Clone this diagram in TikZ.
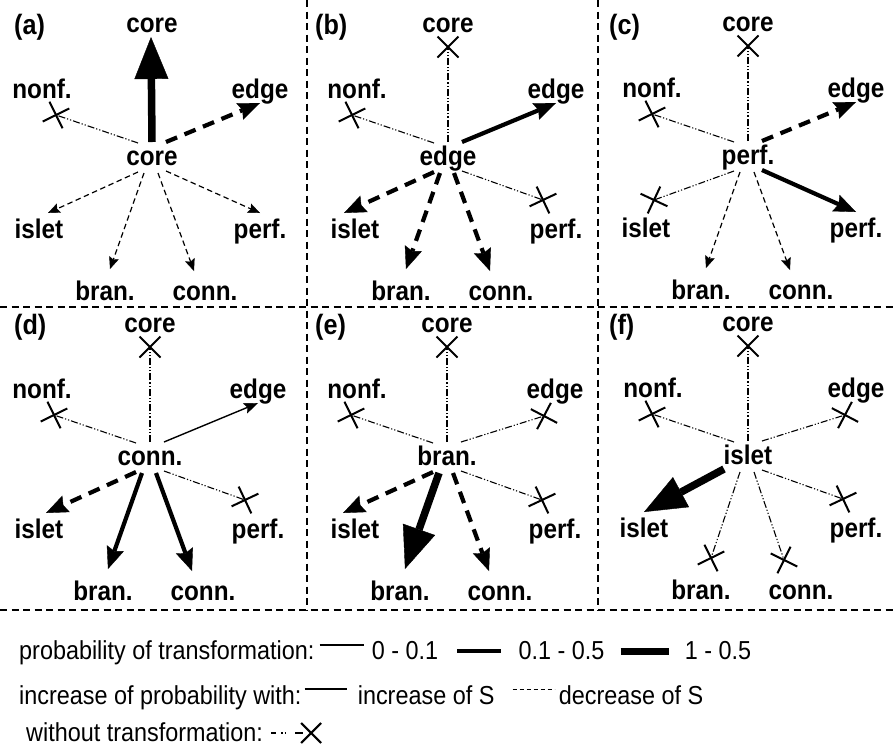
\documentclass[tikz,border=0pt]{standalone}
\usepackage{fontspec}
\setmainfont{Liberation Sans}[FakeStretch=0.9]
\newfontfamily\legfont{Liberation Sans}[FakeStretch=0.9]
\usetikzlibrary{arrows.meta,decorations.markings}

\tikzset{
  lab/.style={font=\fontsize{27}{30}\selectfont\bfseries, inner sep=0pt, anchor=base},
  tag/.style={font=\fontsize{28}{30}\selectfont\bfseries, inner sep=0pt, anchor=base west},
  leg/.style={font=\legfont\fontsize{26}{28}\selectfont, inner sep=0pt, anchor=base west},
  divider/.style={line width=1.2pt, dash pattern=on 7pt off 4.5pt},
  pthin/.style={line width=1.2pt, dash pattern=on 5.5pt off 3.5pt,
    -{Stealth[length=12pt,width=10pt,inset=2pt,line width=0.4pt]}},
  pthinsolid/.style={line width=1.4pt,
    -{Stealth[length=14pt,width=11pt,inset=2.5pt,line width=0.4pt]}},
  pmed/.style={line width=4.2pt,
    -{Stealth[length=22pt,width=18pt,inset=3pt,line width=0.4pt]}},
  pmeddash/.style={pmed, dash pattern=on 12pt off 8pt},
  pbig/.style={line width=7.5pt, -{Triangle[length=42pt,width=34pt,line width=0.4pt]}},
  xmark/.style={solid, line width=2pt},
  noway/.style={line width=1.1pt,
    dash pattern=on 7pt off 2pt on 1.2pt off 2pt on 1.2pt off 2pt,
    postaction={decorate, decoration={markings, mark=at position 1 with
      {\draw[xmark] (-10.5pt,-10.5pt) -- (10.5pt,10.5pt) (-10.5pt,10.5pt) -- (10.5pt,-10.5pt);}}}},
}

% one star: #1 prefix, #2/#3 centre, #4 centre label,
% #5/#6 x offsets of the left-hand labels nonf. and islet
\newcommand\starpanel[6]{%
  \begin{scope}[shift={(#2,#3)}]
    \node[lab] (#1-c) at (0,7) {#4};
    \node[lab] (#1-core) at (0,-126) {core};
    \node[lab] (#1-nonf) at (#5,-60) {nonf.};
    \node[lab] (#1-edge) at (108,-60) {edge};
    \node[lab] (#1-islet) at (#6,80) {islet};
    \node[lab] (#1-perf) at (108,80) {perf.};
    \node[lab] (#1-bran) at (-47,142) {bran.};
    \node[lab] (#1-conn) at (53,142) {conn.};
    % where the connectors leave the centre label
    \coordinate (#1-core-s) at (0,-16);
    \coordinate (#1-nonf-s) at (-14,-15);
    \coordinate (#1-edge-s) at (14,-16);
    \coordinate (#1-islet-s) at (-14,14);
    \coordinate (#1-perf-s) at (14,13);
    \coordinate (#1-bran-s) at (-8,15);
    \coordinate (#1-conn-s) at (6,15);
    \coordinate (#1-islet-w) at (-24,12);
    % arrow tips
    \coordinate (#1-core-t) at (-1,-121);
    \coordinate (#1-edge-t) at (108,-55);
    \coordinate (#1-islet-t) at (-104,55);
    \coordinate (#1-perf-t) at (108,55);
    \coordinate (#1-bran-t) at (-42,111);
    \coordinate (#1-conn-t) at (42,113);
    % crosses
    \coordinate (#1-core-x) at (0,-111);
    \coordinate (#1-nonf-x) at (-96,-43);
    \coordinate (#1-edge-x) at (97,-42);
    \coordinate (#1-islet-x) at (-94,43);
    \coordinate (#1-perf-x) at (95,42);
    \coordinate (#1-bran-x) at (-37,101);
    \coordinate (#1-conn-x) at (36,103);
  \end{scope}}

\begin{document}
\begin{tikzpicture}[x=1pt,y=-1pt]
\useasboundingbox (0,0) rectangle (895,748);

% frame of the six panels
\draw[divider] (0,307) -- (895,307);
\draw[divider] (0,610) -- (895,610);
\draw[divider] (307,0) -- (307,610);
\draw[divider] (598,0) -- (598,610);

\node[tag] (ta) at (14,34) {(a)};
\node[tag] (tb) at (315,34) {(b)};
\node[tag] (tc) at (609,34) {(c)};
\node[tag] (td) at (14,334) {(d)};
\node[tag] (te) at (315,334) {(e)};
\node[tag] (tf) at (609,334) {(f)};

\starpanel{a}{152}{158}{core}{-110}{-113}
\starpanel{b}{448}{158}{edge}{-91}{-93}
\starpanel{c}{748}{157}{perf.}{-96}{-102}
\starpanel{d}{150}{458}{conn.}{-108}{-111}
\starpanel{e}{447}{458}{bran.}{-90}{-92}
\starpanel{f}{748}{457}{islet}{-95}{-104}

% (a) core
\draw[pbig] (a-core-s) -- (a-core-t);
\draw[noway] (a-nonf-s) -- (a-nonf-x);
\draw[pmeddash] (a-edge-s) -- (a-edge-t);
\draw[pthin] (a-islet-s) -- (a-islet-t);
\draw[pthin] (a-perf-s) -- (a-perf-t);
\draw[pthin] (a-bran-s) -- (a-bran-t);
\draw[pthin] (a-conn-s) -- (a-conn-t);

% (b) edge
\draw[noway] (b-core-s) -- (b-core-x);
\draw[noway] (b-nonf-s) -- (b-nonf-x);
\draw[pmed] (b-edge-s) -- (b-edge-t);
\draw[pmeddash] (b-islet-s) -- (b-islet-t);
\draw[noway] (b-perf-s) -- (b-perf-x);
\draw[pmeddash] (b-bran-s) -- (b-bran-t);
\draw[pmeddash] (b-conn-s) -- (b-conn-t);

% (c) perf.
\draw[noway] (c-core-s) -- (c-core-x);
\draw[noway] (c-nonf-s) -- (c-nonf-x);
\draw[pmeddash] (c-edge-s) -- (c-edge-t);
\draw[noway] (c-islet-s) -- (c-islet-x);
\draw[pmed] (c-perf-s) -- (c-perf-t);
\draw[pthin] (c-bran-s) -- (c-bran-t);
\draw[pthin] (c-conn-s) -- (c-conn-t);

% (d) conn.
\draw[noway] (d-core-s) -- (d-core-x);
\draw[noway] (d-nonf-s) -- (d-nonf-x);
\draw[pthinsolid] (d-edge-s) -- (d-edge-t);
\draw[pmeddash] (d-islet-s) -- (d-islet-t);
\draw[noway] (d-perf-s) -- (d-perf-x);
\draw[pmed] (d-bran-s) -- (d-bran-t);
\draw[pmed] (d-conn-s) -- (d-conn-t);

% (e) bran.
\draw[noway] (e-core-s) -- (e-core-x);
\draw[noway] (e-nonf-s) -- (e-nonf-x);
\draw[noway] (e-edge-s) -- (e-edge-x);
\draw[pmeddash] (e-islet-s) -- (e-islet-t);
\draw[noway] (e-perf-s) -- (e-perf-x);
\draw[pbig] (e-bran-s) -- (e-bran-t);
\draw[pmeddash] (e-conn-s) -- (e-conn-t);

% (f) islet
\draw[noway] (f-core-s) -- (f-core-x);
\draw[noway] (f-nonf-s) -- (f-nonf-x);
\draw[noway] (f-edge-s) -- (f-edge-x);
\draw[pbig] (f-islet-w) -- (f-islet-t);
\draw[noway] (f-perf-s) -- (f-perf-x);
\draw[noway] (f-bran-s) -- (f-bran-x);
\draw[noway] (f-conn-s) -- (f-conn-x);

% legend
\node[leg] (l1) at (19,659) {probability of transformation:};
\draw[line width=1.2pt] ([xshift=5pt,yshift=14pt]l1.base east) -- ++(44,0) coordinate (l1a);
\path (l1a |- l1.base) ++(8,0) node[leg] (l1b) {0 - 0.1};
\draw[line width=4pt] ([xshift=19pt,yshift=8pt]l1b.base east) -- ++(44,0) coordinate (l1c);
\path (l1c |- l1.base) ++(17,0) node[leg] (l1d) {0.1 - 0.5};
\draw[line width=7pt] ([xshift=16pt,yshift=8pt]l1d.base east) -- ++(48,0) coordinate (l1e);
\path (l1e |- l1.base) ++(16,0) node[leg] (l1f) {1 - 0.5};

\node[leg] (l2) at (19,704) {increase of probability with:};
\draw[line width=1.2pt] ([xshift=3pt,yshift=15pt]l2.base east) -- ++(42,0) coordinate (l2a);
\path (l2a |- l2.base) ++(11,0) node[leg] (l2b) {increase of S};
\draw[line width=1pt, dash pattern=on 4pt off 3pt] ([xshift=18pt,yshift=15pt]l2b.base east) -- ++(42,0) coordinate (l2c);
\path (l2c |- l2.base) ++(4,0) node[leg] (l2d) {decrease of S};

\node[leg] (l3) at (26,741) {without transformation:};
\coordinate (l3a) at ([xshift=8pt,yshift=8pt]l3.base east);
\draw[line width=1.2pt, dash pattern=on 5pt off 5pt on 1.5pt off 2pt on 1.5pt off 9pt on 8pt off 20pt,
  postaction={decorate, decoration={markings, mark=at position 1 with
    {\draw[xmark] (-10pt,-10pt) -- (10pt,10pt) (-10pt,10pt) -- (10pt,-10pt);}}}]
  (l3a) -- ++(40,0) coordinate (l3b);
\end{tikzpicture}
\end{document}
